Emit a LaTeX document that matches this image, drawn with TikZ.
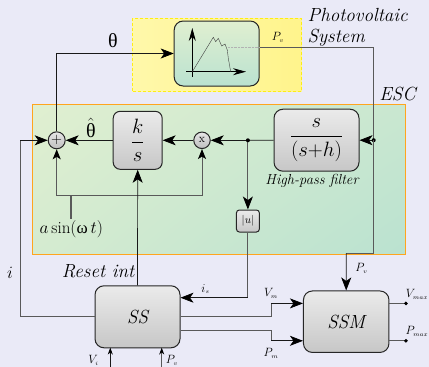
\documentclass[tikz,border=0pt]{standalone}
\usepackage{amsmath,amssymb}
\usepackage{fontspec}
\usepackage{tikz}
\usetikzlibrary{arrows.meta, positioning, calc, shadings}
\newfontfamily\grk{Liberation Serif}
\definecolor{pagebg}{RGB}{234,234,247}
\definecolor{escline}{RGB}{255,165,30}
\definecolor{pvline}{RGB}{255,238,20}
\definecolor{escgreena}{RGB}{224,239,208}
\definecolor{escgreenb}{RGB}{186,226,208}
\definecolor{pvyellowa}{RGB}{255,248,170}
\definecolor{pvyellowb}{RGB}{255,244,140}
\newcommand{\fs}[1]{\fontsize{#1}{#1}\selectfont}
\begin{document}
\begin{tikzpicture}[x=1pt,y=-1pt,
  block/.style={draw=black!85, line width=1pt, rounded corners=9pt, top color=black!8, bottom color=black!22, inner sep=0pt},
  dot/.style={circle, draw=black!85, line width=1pt, top color=black!10, bottom color=black!25, inner sep=0pt},
  wire/.style={line width=0.7pt, draw=black!90},
  gwire/.style={line width=0.9pt, draw=black!65},
  sig/.style={-{Stealth[length=13pt,width=10pt,inset=3.5pt,color=black]}},
  small sig/.style={-{Stealth[length=10pt,width=8pt,inset=2.5pt,color=black]}},
  tiny sig/.style={-{Stealth[length=7pt,width=5pt,color=black]}},
  tip/.style={-{Circle[length=3.5pt,color=black]}},
  junc/.style={circle, fill=black, inner sep=0pt, minimum size=4pt},
  lbl/.style={inner sep=0pt, font=\fs{19}\itshape},
  sm/.style={inner sep=0pt, font=\fs{12}}
]
\useasboundingbox (0,0) rectangle (429,367);
\fill[pagebg] (0,0) rectangle (429,367);
% regions
\shade[lower left=escgreena!70!escgreenb, upper left=escgreena, upper right=escgreena!40!escgreenb, lower right=escgreenb] (32,104.5) rectangle (405.5,254);
\draw[escline, line width=0.9pt] (32,104.5) rectangle (405.5,254);
\shade[left color=pvyellowa, right color=pvyellowb] (132,18) rectangle (301.5,91.7);
\draw[pvline, line width=0.9pt, densely dashed] (132,18) rectangle (301.5,91.7);
% blocks
\node[block, minimum width=85pt, minimum height=65pt, top color=escgreena, bottom color=escgreenb] (pv) at (216.7,53.5) {};
\node[block, minimum width=49pt, minimum height=58pt, rounded corners=7pt] (int) at (137.7,140.3) {};
\node[font=\fs{21}] at (int) {$\dfrac{k}{s}$};
\node[block, minimum width=85pt, minimum height=62pt] (hpf) at (316.5,140.2) {};
\node[font=\fs{21}] at (hpf) {$\dfrac{s}{(s{+}h)}$};
\node[block, minimum width=23pt, minimum height=22pt, rounded corners=3pt, font=\fs{11}] (abs) at (247.9,221) {$|u|$};
\node[block, minimum width=85pt, minimum height=62pt, font=\fs{19}\itshape] (ss) at (137.5,316.8) {SS};
\node[block, minimum width=85.5pt, minimum height=61.5pt, font=\fs{19}\itshape] (ssm) at (346.2,321.7) {SSM};
\node[dot, minimum size=17pt, font=\fs{15}] (sum) at (56.7,140.3) {$+$};
\node[dot, minimum size=16.5pt, font=\fs{12}] (mul) at (202,140.3) {x};
% curve inside the PV block
\draw[-{Stealth[length=13pt,width=7pt]}, line width=0.8pt] (192.3,76.7) -- (192.3,28);
\draw[-{Stealth[length=13pt,width=7pt]}, line width=0.8pt] (186,71.7) -- (246,71.7);
\draw[black!75, line width=0.4pt] (192.3,71.7) -- (213.3,37.3) -- (215.7,41.7) -- (218.3,38.3) -- (221.7,46) -- (225,44) -- (227.3,50) -- (228.3,58.3) -- (230.7,71.7);
\draw[black!30, densely dotted, line width=0.4pt] (228,47.5) -- (259,47.5);
% corner points
\coordinate (pvout) at (pv.east |- 0,47.6);
\coordinate (pvcorner) at (373.7,47.6);
\coordinate (hpfin) at (373.7,140.2);
\coordinate (escbot) at (373.7,253.3);
\coordinate (ssmtop) at (346.3,253.3);
\coordinate (split) at (247.9,140.3);
\coordinate (thetacorner) at (56.7,53.5);
\coordinate (sinl) at (56.7,195.7);
\coordinate (sinr) at (202,195.7);
\coordinate (sinjoin) at (71,195.7);
\coordinate (sinend) at (71,219);
\coordinate (fbleft) at (20.3,140.3);
\coordinate (fbbot) at (20.3,316.8);
\coordinate (abscorner) at (247.9,297.7);
\coordinate (ssinabs) at (ss.east |- 0,297.7);
\coordinate (ssvm) at (ss.east |- 0,316.8);
\coordinate (sspm) at (ss.east |- 0,330);
\coordinate (vmup) at (271,316.8);
\coordinate (vmin) at (271,303.4);
\coordinate (pmdown) at (271,330);
\coordinate (pmin) at (271,340.8);
\coordinate (ssmvm) at (ssm.west |- 0,303.4);
\coordinate (ssmpm) at (ssm.west |- 0,340.8);
\coordinate (ssmvmax) at (ssm.east |- 0,303.4);
\coordinate (ssmpmax) at (ssm.east |- 0,340.8);
\coordinate (vmaxend) at (407.7,303.4);
\coordinate (pmaxend) at (407.7,340.8);
\coordinate (viin) at (110.3,367);
\coordinate (vitop) at (110.3,347.6);
\coordinate (pvin) at (161.7,367);
\coordinate (pvtop) at (161.7,347.6);
% connectors
\draw[wire, sig] (sum.north) -- (thetacorner) -- (pv.west);
\draw[wire, sig] (int.west) -- (sum.east);
\draw[wire, sig] (mul.west) -- (int.east);
\draw[wire, sig] (split) -- (mul.east);
\draw[wire] (hpf.west) -- (split);
\draw[gwire, sig] (split) -- (abs.north);
\node[junc] at (split) {};
\draw[gwire] (pvout) -- (pvcorner) -- (hpfin);
\draw[wire, sig] (hpfin) -- (hpf.east);
\node[junc] at (hpfin) {};
\draw[gwire] (hpfin) -- (escbot) -- (ssmtop);
\draw[wire, sig] (ssmtop) -- (ssm.north);
\draw[gwire, small sig] (sinl) -- (sum.south);
\draw[gwire] (sinl) -- (sinr);
\draw[gwire, small sig] (sinr) -- (mul.south);
\draw[gwire, line width=1.1pt] (sinjoin) -- (sinend);
\draw[wire, sig] (ss.north) -- (int.south);
\draw[gwire] (ss.west) -- (fbbot) -- (fbleft);
\draw[wire, sig] (fbleft) -- (sum.west);
\draw[gwire] (abs.south) -- (abscorner);
\draw[wire, sig] (abscorner) -- (ssinabs);
\draw[gwire] (ssvm) -- (vmup) -- (vmin);
\draw[wire, sig] (vmin) -- (ssmvm);
\draw[gwire] (sspm) -- (pmdown) -- (pmin);
\draw[wire, sig] (pmin) -- (ssmpm);
\draw[gwire, tip] (ssmvmax) -- (vmaxend);
\draw[gwire, tip] (ssmpmax) -- (pmaxend);
\draw[wire, tiny sig] (viin) -- (vitop);
\draw[gwire, tiny sig] (pvin) -- (pvtop);
% labels
\node[font=\fs{20}\grk] (thetalbl) at (113,41) {θ};
\node[font=\fs{20}] (thetahat) at (91,128) {$\hat{\mbox{\grk θ}}$};
\node[lbl, anchor=west] (pvname) at (307.5,15) {Photovoltaic};
\node[lbl, anchor=west] (pvname2) at (307.5,37.5) {System};
\node[lbl] (esc) at (397.5,94) {ESC};
\node[sm] (pvlbla) at (278,37.5) {$P_{\scriptscriptstyle v}$};
\node[lbl, font=\fs{14.5}\itshape] (hpflbl) at (312,181) {High-pass filter};
\node[font=\fs{17}, inner sep=0pt] (sinlbl) at (71.3,229.3) {$a\sin(\text{\grk ω}\,t)$};
\node[lbl, font=\fs{17}] (ilbl) at (10,273) {$i$};
\node[lbl] (reset) at (98,271.7) {Reset int};
\node[sm] (islbl) at (205.5,289) {$i_{\scriptscriptstyle s}$};
\node[sm] (vmlbl) at (271,293) {$V_{\scriptscriptstyle m}$};
\node[sm] (pmlbl) at (271,353) {$P_{\scriptscriptstyle m}$};
\node[sm] (pvlblb) at (361.5,268) {$P_{\scriptscriptstyle v}$};
\node[sm] (vmaxlbl) at (417,294) {$V_{\scriptscriptstyle max}$};
\node[sm] (pmaxlbl) at (417,331.5) {$P_{\scriptscriptstyle max}$};
\node[sm] (vilbl) at (93.5,360.5) {$V_{\scriptscriptstyle i}$};
\node[sm] (pvlblc) at (172,360.5) {$P_{\scriptscriptstyle v}$};
\end{tikzpicture}
\end{document}
